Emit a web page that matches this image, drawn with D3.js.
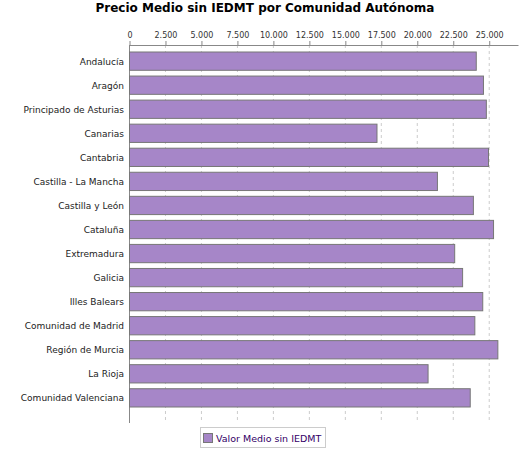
<!DOCTYPE html><html><head><meta charset="utf-8"><script src="https://cdn.jsdelivr.net/npm/d3@7"></script>
<style>body{margin:0;background:#fff}text{font-family:"DejaVu Sans",sans-serif}</style></head><body>
<svg id="c" width="525" height="450"></svg>
<script>
const categories=["Andalucía","Aragón","Principado de Asturias","Canarias","Cantabria","Castilla - La Mancha","Castilla y León","Cataluña","Extremadura","Galicia","Illes Balears","Comunidad de Madrid","Región de Murcia","La Rioja","Comunidad Valenciana"];
const values=[24100,24600,24800,17200,24950,21400,23900,25300,22600,23150,24550,24000,25600,20750,23680];
const ticks=[0,2500,5000,7500,10000,12500,15000,17500,20000,22500,25000];
const seriesName="Valor Medio sin IEDMT";
const svg=d3.select("#c");
const x=d3.scaleLinear().domain([0,27000]).range([129.5,518]);
const y=d3.scaleBand().domain(categories).range([52,407]).paddingInner(0.24);
const fmt=v=>d3.format(",")(v).replace(/,/g,".");
svg.append("text").attr("x",265).attr("y",12).attr("text-anchor","middle").attr("font-size",12).attr("font-weight","bold").text("Precio Medio sin IEDMT por Comunidad Autónoma");
svg.selectAll(".g").data(ticks.slice(1)).join("line").attr("x1",d=>x(d)).attr("x2",d=>x(d)).attr("y1",45).attr("y2",423).attr("stroke","#ccc").attr("stroke-dasharray","3,3");
const ax=svg.append("g").attr("transform","translate(0,45)").call(d3.axisTop(x).tickValues(ticks).tickFormat(fmt).tickSize(4).tickSizeOuter(0));
ax.select(".domain").attr("stroke","#888");
ax.selectAll("line").attr("stroke","#888");
ax.selectAll("text").attr("font-size",8).attr("fill","#333");
svg.append("line").attr("x1",129.5).attr("x2",129.5).attr("y1",45).attr("y2",423).attr("stroke","#888");
svg.selectAll(".b").data(values).join("rect").attr("x",x(0)).attr("y",(d,i)=>y(categories[i])).attr("width",d=>x(d)-x(0)).attr("height",y.bandwidth()).attr("fill","#a686c8").attr("stroke","#777");
svg.selectAll(".l").data(categories).join("text").attr("x",124).attr("y",d=>y(d)+y.bandwidth()/2+3.5).attr("text-anchor","end").attr("font-size",9).attr("fill","#222").text(d=>d);
const lg=svg.append("g");
lg.append("rect").attr("x",200.5).attr("y",427.5).attr("width",125).attr("height",20).attr("fill","#fff").attr("stroke","#ccc");
lg.append("rect").attr("x",203.5).attr("y",433.5).attr("width",9).attr("height",9).attr("fill","#a686c8").attr("stroke","#777");
lg.append("text").attr("x",216).attr("y",442).attr("font-size",9.5).attr("fill","#330066").attr("font-family","Liberation Sans, Arial").text(seriesName);
</script></body></html>
